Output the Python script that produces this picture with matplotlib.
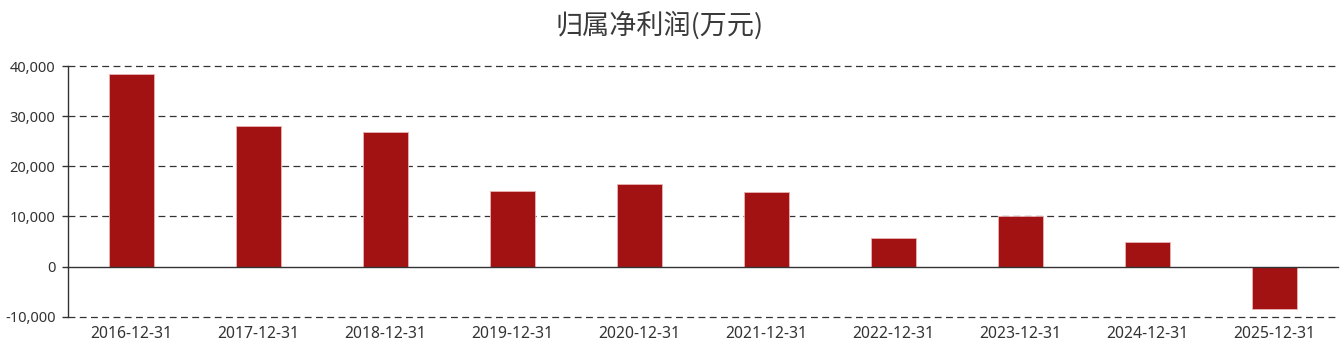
"""
plot.py

Bar chart of attributable net profit (万元) by fiscal year end.
"""

import matplotlib
matplotlib.use("Agg")
import matplotlib.pyplot as plt
from matplotlib.ticker import FuncFormatter

# ============================================================
# Data
# ============================================================
dates = ["2016-12-31", "2017-12-31", "2018-12-31", "2019-12-31", "2020-12-31",
         "2021-12-31", "2022-12-31", "2023-12-31", "2024-12-31", "2025-12-31"]
net_profit = [38500, 28000, 26900, 15000, 16500, 14800, 5700, 10100, 4800, -8500]
y_ticks = [-10000, 0, 10000, 20000, 30000, 40000]
title = "归属净利润(万元)"

plt.rcParams['font.family'] = ['Noto Sans', 'Noto Sans CJK SC', 'DejaVu Sans']

W, H = 1344, 348


def main():
    fig = plt.figure(figsize=(W / 100, H / 100), dpi=100)
    left, right = 68 / W, 1338 / W
    top, bottom = 1 - 66 / H, 1 - 316.7 / H
    ax = fig.add_axes([left, bottom, right - left, top - bottom])

    x = range(len(dates))
    ax.bar(x, net_profit, width=0.35, color='#a21212', edgecolor='#e8b4b4',
           linewidth=0.6, zorder=3)

    ax.set_xlim(-0.5, len(dates) - 0.5)
    ax.set_ylim(-10000, 40000)
    ax.set_yticks(y_ticks)
    ax.yaxis.set_major_formatter(FuncFormatter(lambda v, _: f"{int(v):,}"))
    ax.set_xticks(list(x))
    ax.set_xticklabels(dates)

    # dashed grid, solid zero line
    for t in y_ticks:
        if t == 0:
            ax.axhline(0, color='#333333', linewidth=1.0, zorder=4, clip_on=False)
        else:
            ax.axhline(t, color='#333333', linewidth=0.9, linestyle=(0, (5.5, 3.5)),
                       zorder=1, clip_on=False)

    for s in ['top', 'right', 'bottom']:
        ax.spines[s].set_visible(False)
    ax.spines['left'].set_color('#333333')
    ax.spines['left'].set_linewidth(1.0)

    ax.tick_params(axis='y', length=4, width=1, color='#333333', labelsize=10.5,
                   labelcolor='#333333', pad=5)
    ax.tick_params(axis='x', length=0, labelsize=11.3, labelcolor='#333333', pad=7)

    fig.text(660 / W, 1 - 25 / H, title, ha='center', va='center',
             fontsize=19.5, color='#3a3a3a',
             family=['Noto Sans CJK SC', 'DejaVu Sans'])

    fig.savefig("out.png", dpi=100)


if __name__ == "__main__":
    main()
